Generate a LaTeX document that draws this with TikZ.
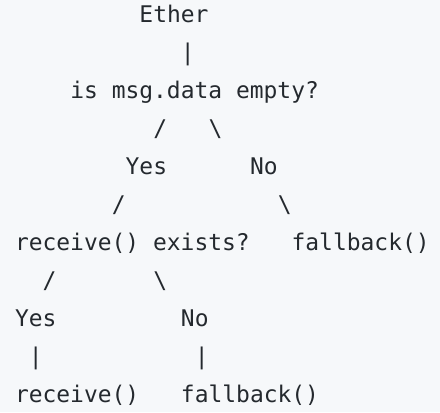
\documentclass[tikz,border=0pt]{standalone}
\usepackage{fontspec}
\newfontfamily\codefont{DejaVu Sans Mono}
\usepackage{tikz}
\definecolor{codebg}{HTML}{F6F8FA}
\definecolor{codefg}{HTML}{24292E}

\begin{document}
\begin{tikzpicture}[x=10.37pt,y=-28.5pt,
	tok/.style={anchor=base west,inner sep=0pt,outer sep=0pt,text=codefg,font=\codefont\fontsize{17.2pt}{20pt}\selectfont}]

		\fill[codebg] (-1.085,-0.597) rectangle (30.73,10.245);
		\useasboundingbox (-1.085,-0.597) rectangle (30.73,10.245);

		\node[tok] (ether) at (9,0) {Ether};
		\node[tok] (bar1) at (12,1) {|};
		\node[tok] (empty) at (4,2) {is msg.data empty?};
		\node[tok] (sl1) at (10,3) {/};
		\node[tok] (bs1) at (14,3) {\textbackslash};
		\node[tok] (yes1) at (8,4) {Yes};
		\node[tok] (no1) at (17,4) {No};
		\node[tok] (sl2) at (7,5) {/};
		\node[tok] (bs2) at (19,5) {\textbackslash};
		\node[tok] (exists) at (0,6) {receive() exists?};
		\node[tok] (fall1) at (20,6) {fallback()};
		\node[tok] (sl3) at (2,7) {/};
		\node[tok] (bs3) at (10,7) {\textbackslash};
		\node[tok] (yes2) at (0,8) {Yes};
		\node[tok] (no2) at (12,8) {No};
		\node[tok] (bar2) at (1,9) {|};
		\node[tok] (bar3) at (13,9) {|};
		\node[tok] (recv) at (0,10) {receive()};
		\node[tok] (fall2) at (12,10) {fallback()};
		\end{tikzpicture}
\end{document}
